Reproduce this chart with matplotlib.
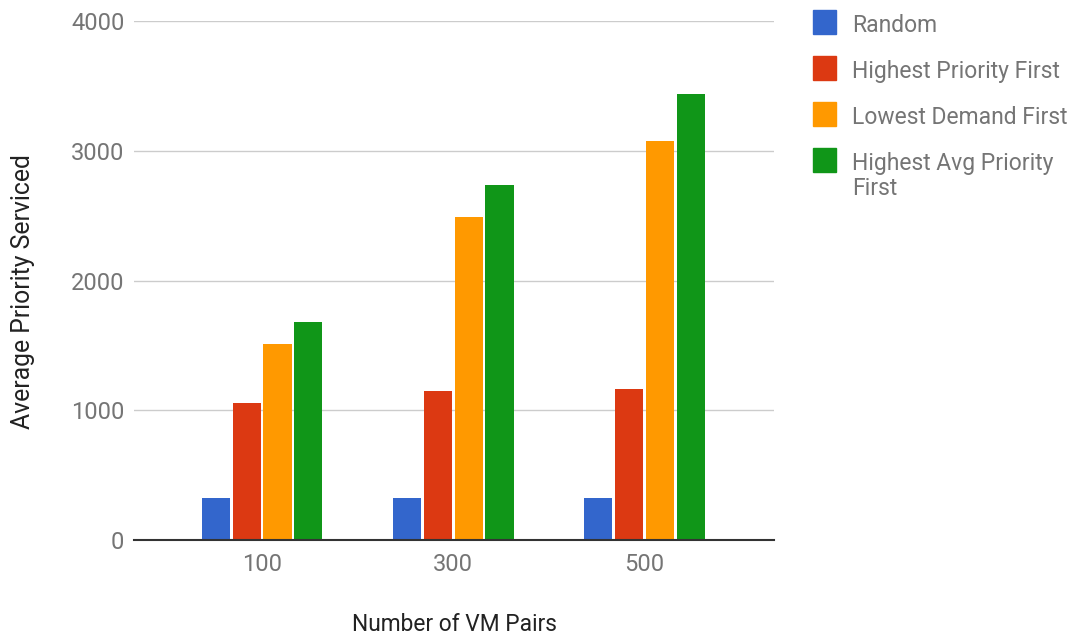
import matplotlib.pyplot as plt
import numpy as np
from matplotlib.patches import Rectangle

plt.rcParams["font.family"] = ["Roboto", "DejaVu Sans"]

# average priority serviced per VM pair count
vm_pairs = ["100", "300", "500"]
series_names = [
    "Random",
    "Highest Priority First",
    "Lowest Demand First",
    "Highest Avg Priority\nFirst",
]
random_vals = [326, 326, 326]
highest_priority = [1054, 1147, 1163]
lowest_demand = [1512, 2488, 3078]
highest_avg_priority = [1682, 2736, 3434]
colors = ["#3366cc", "#dc3912", "#ff9900", "#109618"]

values = [random_vals, highest_priority, lowest_demand, highest_avg_priority]

W, H = 1074, 636
fig = plt.figure(figsize=(W / 100, H / 100), dpi=100)
ax = fig.add_axes([0.1248, 0.1509, 0.5959, 0.8160])

x = np.arange(len(vm_pairs))
bar_w = 0.147
step = 0.162
for i, (vals, name, col) in enumerate(zip(values, series_names, colors)):
    offset = (i - 1.5) * step
    ax.bar(x + offset, vals, width=bar_w, color=col, label=name, zorder=3)

ax.set_ylim(0, 4000)
ax.set_xlim(-0.67, 2.68)
ax.set_yticks([0, 1000, 2000, 3000, 4000])
ax.set_xticks(x)
ax.set_xticklabels(vm_pairs)

ax.grid(axis="y", color="#cccccc", linewidth=1, zorder=0)
for side in ["top", "right", "left"]:
    ax.spines[side].set_visible(False)
ax.spines["bottom"].set_color("#333333")
ax.spines["bottom"].set_linewidth(1.5)
ax.spines["bottom"].set_zorder(4)
ax.tick_params(axis="both", length=0, labelsize=17, colors="#757575")
ax.tick_params(axis="y", pad=7)
ax.tick_params(axis="x", pad=9)

ax.set_xlabel("Number of VM Pairs", fontsize=16.4, color="#222222", labelpad=27)
ax.set_ylabel("Average Priority Serviced", fontsize=17.8, color="#222222")
ax.yaxis.set_label_coords(-0.154, 0.478)

# legend drawn by hand in figure pixel coordinates
row_y = [22, 68, 114, 160]
for name, col, yc in zip(series_names, colors, row_y):
    fig.patches.append(
        Rectangle(
            (813 / W, 1 - (yc + 11.5) / H),
            23 / W,
            23 / H,
            transform=fig.transFigure,
            color=col,
            figure=fig,
        )
    )
    fig.text(
        852 / W,
        1 - (yc - 8) / H,
        name,
        ha="left",
        va="top",
        fontsize=16.5,
        color="#757575",
        linespacing=1.1,
    )

fig.savefig("out.png", dpi=100)
